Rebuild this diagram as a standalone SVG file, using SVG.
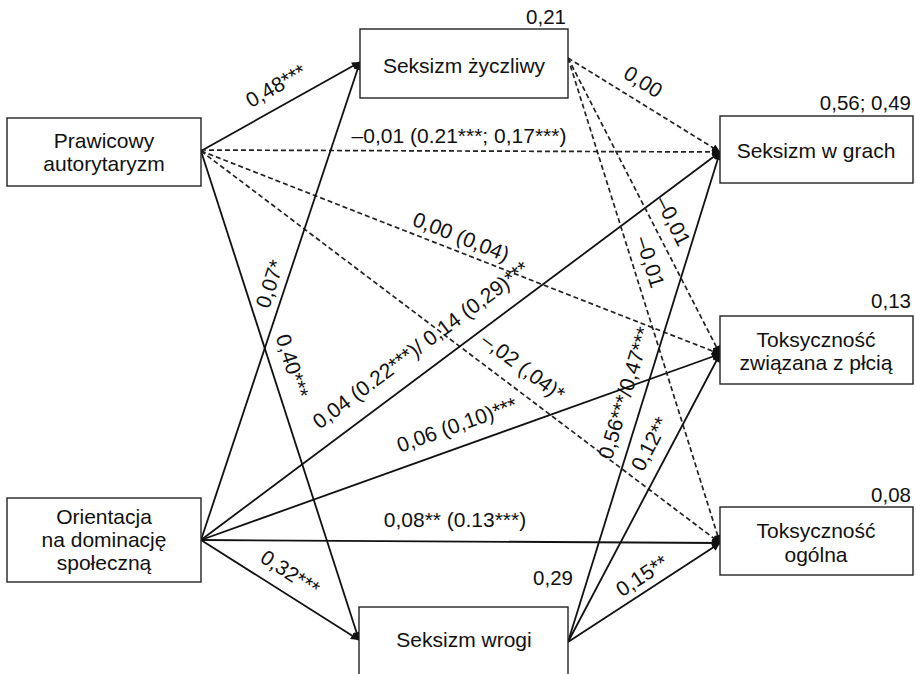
<svg xmlns="http://www.w3.org/2000/svg" width="916" height="674" viewBox="0 0 916 674">
<style>
.box{fill:#fff;stroke:#222;stroke-width:1.4}
.nt{font-family:"Liberation Sans",Arial,sans-serif;font-size:21px;fill:#111;text-anchor:middle}
.r2{font-family:"Liberation Sans",Arial,sans-serif;font-size:20.5px;fill:#111;text-anchor:end}
.el{font-family:"Liberation Sans",Arial,sans-serif;font-size:21px;fill:#111;text-anchor:middle}
.s{fill:none;stroke:#111;stroke-width:1.8}
.d{fill:none;stroke:#222;stroke-width:1.7;stroke-dasharray:5,3}
</style>
<defs>
<marker id="ah" viewBox="0 0 10 10" refX="10" refY="5" markerWidth="10" markerHeight="8" markerUnits="userSpaceOnUse" orient="auto">
<path d="M0,0 L10,5 L0,10 z" fill="#111"/>
</marker>
</defs>
<rect width="916" height="674" fill="#fff"/>
<g id="connectors">
<line class="s" x1="201" y1="151" x2="360" y2="62" marker-end="url(#ah)"/>
<line class="d" x1="201" y1="150" x2="720" y2="152" marker-end="url(#ah)"/>
<line class="d" x1="201" y1="151" x2="720" y2="354" marker-end="url(#ah)"/>
<line class="d" x1="201" y1="151" x2="720" y2="543" marker-end="url(#ah)"/>
<line class="s" x1="201" y1="151" x2="359" y2="640" marker-end="url(#ah)"/>
<line class="s" x1="201" y1="540" x2="360" y2="62" marker-end="url(#ah)"/>
<line class="s" x1="201" y1="540" x2="720" y2="152" marker-end="url(#ah)"/>
<line class="s" x1="201" y1="540" x2="720" y2="354" marker-end="url(#ah)"/>
<line class="s" x1="201" y1="540" x2="720" y2="543" marker-end="url(#ah)"/>
<line class="s" x1="201" y1="540" x2="359" y2="640" marker-end="url(#ah)"/>
<line class="d" x1="568" y1="58" x2="720" y2="152" marker-end="url(#ah)"/>
<line class="d" x1="568" y1="58" x2="720" y2="354" marker-end="url(#ah)"/>
<line class="d" x1="568" y1="58" x2="720" y2="543" marker-end="url(#ah)"/>
<line class="s" x1="568" y1="642" x2="720" y2="152" marker-end="url(#ah)"/>
<line class="s" x1="568" y1="642" x2="720" y2="354" marker-end="url(#ah)"/>
<line class="s" x1="568" y1="642" x2="720" y2="543" marker-end="url(#ah)"/>
</g>
<g id="edge-labels">
<text class="el" transform="translate(276,86) rotate(-29.7)" y="7">0,48***</text>
<text class="el" x="459" y="143">–0,01 (0.21***; 0,17***)</text>
<text class="el" transform="translate(461,237) rotate(21.5)" y="7">0,00 (0,04)</text>
<text class="el" transform="translate(523,367) rotate(37)" y="7">–,02 (,04)*</text>
<text class="el" transform="translate(292,366) rotate(72.4)" y="7">0,40***</text>
<text class="el" transform="translate(270,284) rotate(-71.9)" y="7">0,07*</text>
<text class="el" transform="translate(421,345) rotate(-36.8)" y="7">0,04 (0.22***)/ 0,14 (0,29)***</text>
<text class="el" transform="translate(457,425) rotate(-19.6)" y="7">0,06 (0,10)***</text>
<text class="el" x="455" y="527">0,08** (0.13***)</text>
<text class="el" transform="translate(290,573) rotate(33.1)" y="7">0,32***</text>
<text class="el" transform="translate(643,82) rotate(32.2)" y="7">0,00</text>
<text class="el" transform="translate(673,221) rotate(63.2)" y="7">–0,01</text>
<text class="el" transform="translate(650,262) rotate(72.8)" y="7">–0,01</text>
<text class="el" transform="translate(625,393) rotate(-73.1)" y="7">0,56***/0,47***</text>
<text class="el" transform="translate(650,444) rotate(-62.4)" y="7">0,12**</text>
<text class="el" transform="translate(642,576) rotate(-33.4)" y="7">0,15**</text>
</g>
<g id="node-pa">
<rect class="box" x="7" y="118" width="194" height="68"/>
<text class="nt" x="104" y="148">Prawicowy</text>
<text class="nt" x="104" y="171">autorytaryzm</text>
</g>
<g id="node-ods">
<rect class="box" x="7" y="498" width="194" height="84"/>
<text class="nt" x="104" y="524">Orientacja</text>
<text class="nt" x="104" y="547">na dominację</text>
<text class="nt" x="104" y="570">społeczną</text>
</g>
<g id="node-sz">
<rect class="box" x="360" y="29" width="208" height="69"/>
<text class="nt" x="464" y="73">Seksizm życzliwy</text>
<text class="r2" x="566" y="24">0,21</text>
</g>
<g id="node-sw">
<rect class="box" x="359" y="607" width="209" height="80"/>
<text class="nt" x="464" y="647">Seksizm wrogi</text>
<text class="r2" x="573" y="585">0,29</text>
</g>
<g id="node-swg">
<rect class="box" x="720" y="116" width="193" height="67"/>
<text class="nt" x="816" y="158">Seksizm w grach</text>
<text class="r2" x="911" y="110">0,56; 0,49</text>
</g>
<g id="node-tp">
<rect class="box" x="720" y="316" width="193" height="68"/>
<text class="nt" x="816" y="347">Toksyczność</text>
<text class="nt" x="816" y="370">związana z płcią</text>
<text class="r2" x="911" y="308">0,13</text>
</g>
<g id="node-to">
<rect class="box" x="720" y="507" width="193" height="68"/>
<text class="nt" x="816" y="538">Toksyczność</text>
<text class="nt" x="816" y="562">ogólna</text>
<text class="r2" x="911" y="502">0,08</text>
</g>
</svg>
